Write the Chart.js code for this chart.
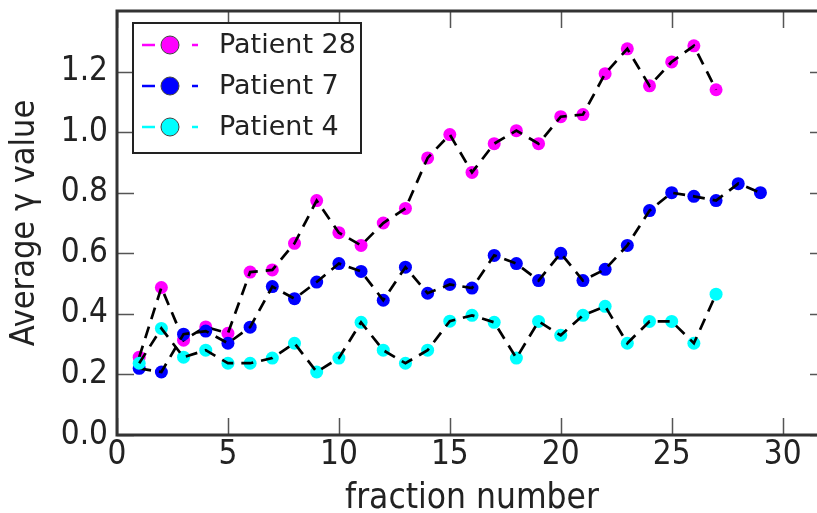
<!DOCTYPE html>
<html>
<head>
<meta charset="utf-8">
<script src="https://cdn.jsdelivr.net/npm/chart.js@4.4.0/dist/chart.umd.min.js"></script>
<style>
  html, body { margin: 0; padding: 0; background: #fff; overflow: hidden; }
  #wrap { width: 840px; height: 513px; }
</style>
</head>
<body>
<div id="wrap"><canvas id="grafico" width="840" height="513"></canvas></div>
<script>
// valores
const fracciones = [1, 2, 3, 4, 5, 6, 7, 8, 9, 10, 11, 12, 13, 14, 15, 16, 17, 18, 19, 20,
  21, 22, 23, 24, 25, 26, 27, 28, 29];

const paciente28 = [0.257, 0.487, 0.313, 0.357, 0.336, 0.538, 0.545, 0.633, 0.774, 0.668,
  0.626, 0.700, 0.748, 0.915, 0.992, 0.867, 0.962, 1.005, 0.962, 1.051,
  1.058, 1.193, 1.275, 1.153, 1.232, 1.285, 1.140];

const paciente7 = [0.220, 0.208, 0.333, 0.343, 0.303, 0.356, 0.490, 0.450, 0.505, 0.566,
  0.540, 0.445, 0.554, 0.468, 0.497, 0.485, 0.593, 0.566, 0.510, 0.600,
  0.510, 0.547, 0.626, 0.741, 0.800, 0.788, 0.774, 0.830, 0.800];

const paciente4 = [0.237, 0.352, 0.257, 0.280, 0.237, 0.237, 0.254, 0.303, 0.208, 0.254,
  0.372, 0.280, 0.237, 0.280, 0.376, 0.395, 0.372, 0.254, 0.375, 0.329,
  0.395, 0.425, 0.303, 0.375, 0.375, 0.303, 0.465];

const series = [
  { nombre: 'Patient 28', valores: paciente28, color: '#ff00ff' },
  { nombre: 'Patient 7', valores: paciente7, color: '#0000ff' },
  { nombre: 'Patient 4', valores: paciente4, color: '#00ffff' }
];

const xTicks = [0, 5, 10, 15, 20, 25, 30];
const yTicks = [0.0, 0.2, 0.4, 0.6, 0.8, 1.0, 1.2];

const fuenteEje = 'DejaVu Sans Condensed';

function puntos(valores) {
  return valores.map((v, i) => ({ x: fracciones[i], y: v }));
}

// cada serie: marcadores de color y encima la linea negra discontinua
const datasets = [];
let orden = series.length * 2;
series.forEach(s => {
  datasets.push({
    label: s.nombre,
    data: puntos(s.valores),
    showLine: false,
    pointRadius: 6.5,
    pointHoverRadius: 6.5,
    pointBackgroundColor: s.color,
    pointBorderColor: s.color,
    pointBorderWidth: 0,
    order: orden--
  });
  datasets.push({
    label: s.nombre + ' linea',
    data: puntos(s.valores),
    showLine: true,
    borderColor: '#000',
    borderWidth: 2.7,
    borderDash: [12, 8],
    pointRadius: 0,
    pointHoverRadius: 0,
    fill: false,
    tension: 0,
    order: orden--
  });
});

// marcos y marcas hacia dentro, estilo matplotlib
const marcoPlugin = {
  id: 'marco',
  afterDatasetsDraw(chart) {
    const { ctx, chartArea: a, scales: { x, y } } = chart;
    ctx.save();
    ctx.strokeStyle = '#555';
    ctx.lineWidth = 1.5;
    const largo = 17;
    xTicks.forEach(t => {
      const px = Math.round(x.getPixelForValue(t)) + 0.5;
      ctx.beginPath();
      ctx.moveTo(px, a.bottom); ctx.lineTo(px, a.bottom - largo);
      ctx.moveTo(px, a.top); ctx.lineTo(px, a.top + largo);
      ctx.stroke();
    });
    yTicks.forEach(t => {
      const py = Math.round(y.getPixelForValue(t)) + 0.5;
      ctx.beginPath();
      ctx.moveTo(a.left, py); ctx.lineTo(a.left + largo, py);
      ctx.moveTo(a.right, py); ctx.lineTo(a.right - largo, py);
      ctx.stroke();
    });
    ctx.strokeStyle = '#333';
    ctx.lineWidth = 3;
    ctx.strokeRect(a.left, a.top, a.right - a.left, a.bottom - a.top);
    ctx.restore();
  },
  afterDraw(chart) {
    // leyenda dentro del grafico
    const { ctx } = chart;
    const caja = { x: 133, y: 23, w: 228, h: 130 };
    ctx.save();
    ctx.fillStyle = '#fff';
    ctx.fillRect(caja.x, caja.y, caja.w, caja.h);
    ctx.strokeStyle = '#222';
    ctx.lineWidth = 2;
    ctx.strokeRect(caja.x, caja.y, caja.w, caja.h);
    series.forEach((s, i) => {
      const cy = 45 + i * 41;
      ctx.strokeStyle = s.color;
      ctx.lineWidth = 2.6;
      ctx.setLineDash([13, 37]);
      ctx.beginPath();
      ctx.moveTo(142, cy); ctx.lineTo(198, cy);
      ctx.stroke();
      ctx.setLineDash([]);
      ctx.beginPath();
      ctx.arc(170, cy, 9, 0, Math.PI * 2);
      ctx.fillStyle = s.color;
      ctx.fill();
      ctx.strokeStyle = '#444';
      ctx.lineWidth = 1;
      ctx.stroke();
      ctx.fillStyle = '#222';
      ctx.font = '27px "DejaVu Sans"';
      ctx.textBaseline = 'middle';
      ctx.textAlign = 'left';
      ctx.fillText(s.nombre, 219, cy + 1);
    });
    ctx.restore();
  }
};

new Chart(document.getElementById('grafico'), {
  type: 'scatter',
  data: { datasets },
  options: {
    responsive: false,
    animation: false,
    events: [],
    layout: { padding: { top: 11, right: 13, left: 0, bottom: 0 } },
    plugins: {
      legend: { display: false },
      tooltip: { enabled: false }
    },
    scales: {
      x: {
        type: 'linear',
        min: 0,
        max: 32,
        afterBuildTicks: scale => { scale.ticks = xTicks.map(v => ({ value: v })); },
        afterFit: scale => {
          scale.height = 78;
          scale.paddingLeft = 0;
          scale.paddingRight = 0;
        },
        grid: { display: false, drawTicks: false },
        border: { display: false },
        ticks: {
          color: '#222',
          padding: 1,
          font: { family: fuenteEje, size: 33 },
          callback: v => String(v)
        },
        title: {
          display: true,
          text: 'fraction number',
          color: '#222',
          font: { family: fuenteEje, size: 35, lineHeight: 1 },
          padding: { top: 0, bottom: -3 }
        }
      },
      y: {
        min: 0,
        max: 1.4,
        afterBuildTicks: scale => { scale.ticks = yTicks.map(v => ({ value: v })); },
        afterFit: scale => {
          scale.width = 117;
          scale.paddingTop = 0;
          scale.paddingBottom = 0;
        },
        grid: { display: false, drawTicks: false },
        border: { display: false },
        ticks: {
          color: '#222',
          padding: 9,
          font: { family: fuenteEje, size: 33 },
          callback: v => v.toFixed(1)
        },
        title: {
          display: true,
          text: 'Average γ value',
          color: '#222',
          font: { family: fuenteEje, size: 34, lineHeight: 1.1 },
          padding: { top: 6, bottom: 0 }
        }
      }
    }
  },
  plugins: [marcoPlugin]
});
</script>
</body>
</html>
